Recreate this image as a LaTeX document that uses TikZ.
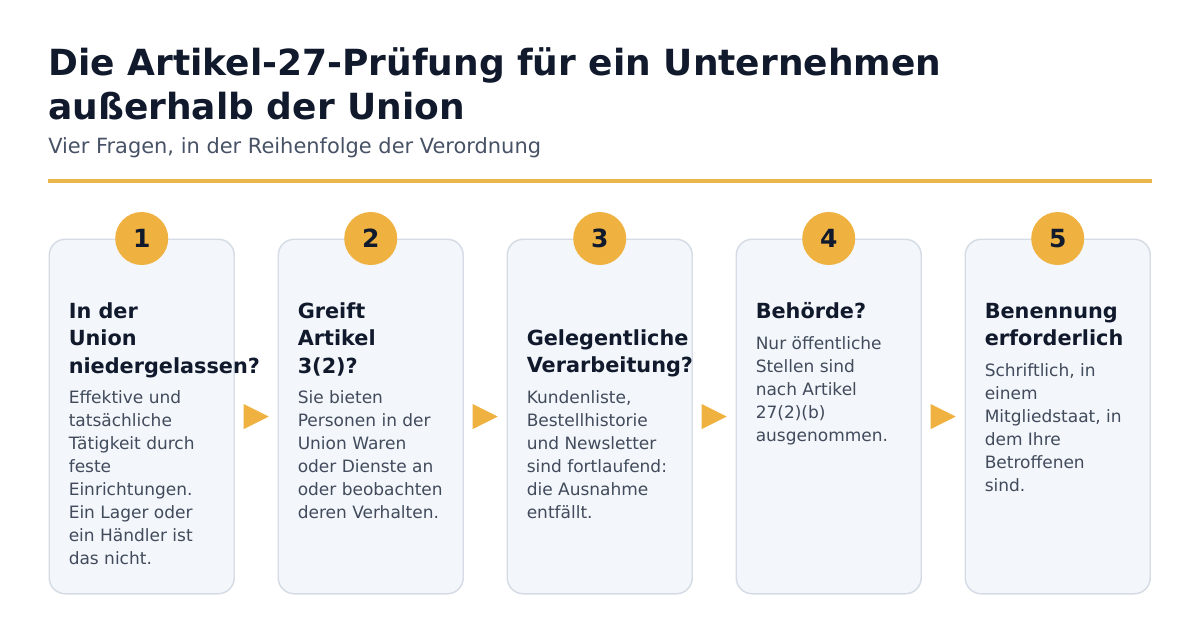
\documentclass[tikz,border=0pt]{standalone}
\usepackage{fontspec}
\setmainfont{DejaVu Sans}
\usetikzlibrary{calc}
\definecolor{titlec}{HTML}{111A2C}
\definecolor{subc}{HTML}{475266}
\definecolor{bodyc}{HTML}{414B5C}
\definecolor{gold}{HTML}{EFB140}
\definecolor{rulec}{HTML}{E8B64C}
\definecolor{cardfill}{HTML}{F3F6FA}
\definecolor{cardline}{HTML}{D5DCE6}
\tikzset{
  card/.style={draw=cardline, line width=1.1pt, fill=cardfill, rounded corners=12pt,
    minimum width=138.75pt, minimum height=265.9pt, anchor=north west, inner sep=0pt},
  num/.style={circle, fill=gold, minimum size=39.75pt, inner sep=0pt, text=titlec,
    font=\bfseries\fontsize{18.75}{20}\selectfont},
  head/.style={anchor=base west, align=left, inner sep=0pt, text=titlec,
    font=\bfseries\fontsize{15.6}{20.6}\selectfont},
  body/.style={anchor=base west, align=left, inner sep=0pt, text=bodyc,
    font=\fontsize{12.75}{17.25}\selectfont},
  tri/.style={fill=gold}
}
\begin{document}
\begin{tikzpicture}[x=0.75pt,y=-0.75pt]
\useasboundingbox[fill=white] (0,0) rectangle (1200,633);
% title (base anchor = last line baseline)
\node[anchor=base west, align=left, inner sep=0pt, text=titlec,
  font=\bfseries\fontsize{27}{33.2}\selectfont] (title) at (48,119.3)
  {Die Artikel-27-Prüfung für ein Unternehmen\\außerhalb der Union};
\node[anchor=base west, inner sep=0pt, text=subc, font=\fontsize{15.7}{18}\selectfont]
  (sub) at (48,153.3) {Vier Fragen, in der Reihenfolge der Verordnung};
\coordinate (rl) at (48,181);
\coordinate (rr) at (1152,181);
\draw[rulec, line width=3pt] (rl) -- (rr);
% cards
\foreach \i in {1,...,5}{
  \node[card] (c\i) at ({48.5+229*(\i-1)},238.5) {};
  \node[num] (n\i) at (c\i.north) {\i};
}
% arrows
\foreach \a/\b in {1/2,2/3,3/4,4/5}{
  \coordinate (t\a) at ($(c\a.east)!0.5!(c\b.west)$);
  \fill[tri] ($(t\a)+(-12.5,-12.5)$) -- ($(t\a)+(12.5,0)$) -- ($(t\a)+(-12.5,12.5)$) -- cycle;
}
% texts (anchors at baseline of last line)
\node[head] (h1) at (68.5,373) {In der\\Union\\niedergelassen?};
\node[body] (b1) at (68.5,564.3) {Effektive und\\tatsächliche\\Tätigkeit durch\\feste\\Einrichtungen.\\Ein Lager oder\\ein Händler ist\\das nicht.};
\node[head] (h2) at (297.5,373) {Greift\\Artikel\\3(2)?};
\node[body] (b2) at (297.5,518.3) {Sie bieten\\Personen in der\\Union Waren\\oder Dienste an\\oder beobachten\\deren Verhalten.};
\node[head] (h3) at (526.5,372.5) {Gelegentliche\\Verarbeitung?};
\node[body] (b3) at (526.5,518.3) {Kundenliste,\\Bestellhistorie\\und Newsletter\\sind fortlaufend:\\die Ausnahme\\entfällt.};
\node[head] (h4) at (755.5,318) {Behörde?};
\node[body] (b4) at (755.5,441.3) {Nur öffentliche\\Stellen sind\\nach Artikel\\27(2)(b)\\ausgenommen.};
\node[head] (h5) at (984.5,345.5) {Benennung\\erforderlich};
\node[body] (b5) at (984.5,491.7) {Schriftlich, in\\einem\\Mitgliedstaat, in\\dem Ihre\\Betroffenen\\sind.};
\end{tikzpicture}
\end{document}
